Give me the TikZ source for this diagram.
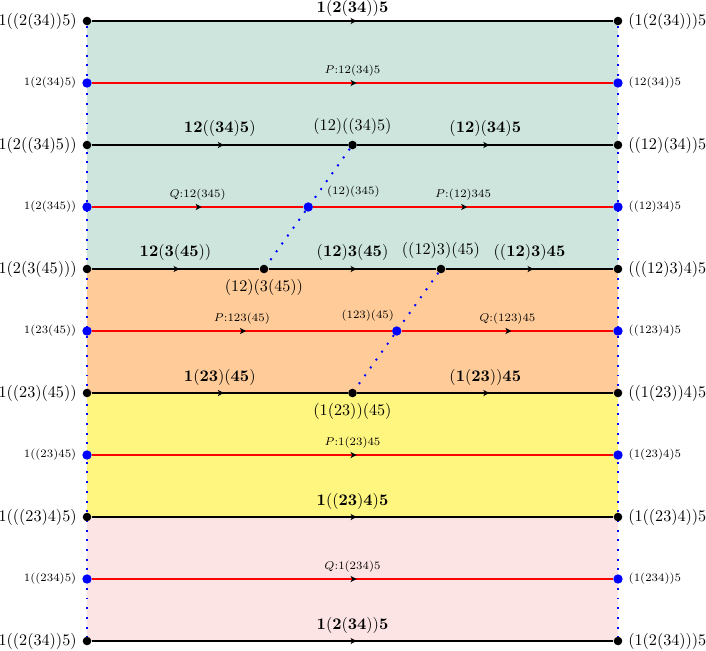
\documentclass[tikz,border=0pt]{standalone}
\usetikzlibrary{arrows.meta,decorations.markings}
\pgfdeclarelayer{background}
\pgfsetlayers{background,main}
\definecolor{bandteal}{RGB}{205,229,221}
\definecolor{bandorange}{RGB}{255,204,153}
\definecolor{bandyellow}{RGB}{255,246,128}
\definecolor{bandpink}{RGB}{253,228,228}
\tikzset{
  bdot/.style={circle, fill=black, inner sep=0pt, minimum size=5.3pt},
  pdot/.style={circle, fill=blue, inner sep=0pt, minimum size=5.8pt},
  midarr/.style={postaction={decorate, decoration={markings,
      mark=at position 0.5 with {\arrow[black,xshift=2.5pt]{Stealth[length=3.7pt,width=3.8pt,inset=1pt]}}}}},
  bline/.style={draw=black, line width=1.2pt, midarr},
  rline/.style={draw=red, line width=1.2pt, midarr},
  dotl/.style={draw=blue, line width=1.2pt, dash pattern=on 1.2pt off 4.8pt},
  slab/.style={font=\scriptsize},
  blab/.style={font=\normalsize, above=1pt},
  rlab/.style={font=\scriptsize, above},
}
\begin{document}
\begin{tikzpicture}[x=0.619pt,y=-0.619pt]
\useasboundingbox (0,0) rectangle (706,650);
% row 1
\node[bdot, label={left:$1((2(34))5)$}] (L1) at (87,21) {};
\node[bdot, label={right:$(1(2(34)))5$}] (R1) at (618,21) {};
% row 2
\node[pdot, label={[slab]left:$1(2(34)5)$}] (L2) at (87,83) {};
\node[pdot, label={[slab]right:$(12(34))5$}] (R2) at (618,83) {};
% row 3
\node[bdot, label={left:$1(2((34)5))$}] (L3) at (87,145) {};
\node[bdot, label={above:$(12)((34)5)$}] (M3) at (352.5,145) {};
\node[bdot, label={right:$((12)(34))5$}] (R3) at (618,145) {};
% row 4
\node[pdot, label={[slab]left:$1(2(345))$}] (L4) at (87,207) {};
\node[pdot, label={[slab,xshift=6pt]above right:$(12)(345)$}] (M4) at (308.25,207) {};
\node[pdot, label={[slab]right:$((12)34)5$}] (R4) at (618,207) {};
% row 5
\node[bdot, label={left:$1(2(3(45)))$}] (L5) at (87,269) {};
\node[bdot, label={below:$(12)(3(45))$}] (M5a) at (264,269) {};
\node[bdot, label={above:$((12)3)(45)$}] (M5b) at (441,269) {};
\node[bdot, label={right:$(((12)3)4)5$}] (R5) at (618,269) {};
% row 6
\node[pdot, label={[slab]left:$1(23(45))$}] (L6) at (87,331) {};
\node[pdot, label={[slab,xshift=4pt]above left:$(123)(45)$}] (M6) at (396.75,331) {};
\node[pdot, label={[slab]right:$((123)4)5$}] (R6) at (618,331) {};
% row 7
\node[bdot, label={left:$1((23)(45))$}] (L7) at (87,393) {};
\node[bdot, label={below:$(1(23))(45)$}] (M7) at (352.5,393) {};
\node[bdot, label={right:$((1(23))4)5$}] (R7) at (618,393) {};
% row 8
\node[pdot, label={[slab]left:$1((23)45)$}] (L8) at (87,455) {};
\node[pdot, label={[slab]right:$(1(23)4)5$}] (R8) at (618,455) {};
% row 9
\node[bdot, label={left:$1(((23)4)5)$}] (L9) at (87,517) {};
\node[bdot, label={right:$(1((23)4))5$}] (R9) at (618,517) {};
% row 10
\node[pdot, label={[slab]left:$1((234)5)$}] (L10) at (87,579) {};
\node[pdot, label={[slab]right:$(1(234))5$}] (R10) at (618,579) {};
% row 11
\node[bdot, label={left:$1((2(34))5)$}] (L11) at (87,641) {};
\node[bdot, label={right:$(1(2(34)))5$}] (R11) at (618,641) {};

\begin{pgfonlayer}{background}
\fill[bandteal] (L1.center) rectangle (R5.center);
\fill[bandorange] (L5.center) rectangle (R7.center);
\fill[bandyellow] (L7.center) rectangle (R9.center);
\fill[bandpink] (L9.center) rectangle (R11.center);
\draw[dotl] (L1) -- (L11);
\draw[dotl] (R1) -- (R11);
\draw[dotl] (M3) -- (M4) -- (M5a);
\draw[dotl] (M5b) -- (M6) -- (M7);
\draw[bline] (L1) -- node[blab, above=-2.2pt] (t1) {$\mathbf{1(2(34))5}$} (R1);
\draw[rline] (L2) -- node[rlab] (t2) {$P{:}12(34)5$} (R2);
\draw[bline] (L3) -- node[blab] (t3) {$\mathbf{12((34)5)}$} (M3);
\draw[bline] (M3) -- node[blab] (t4) {$\mathbf{(12)(34)5}$} (R3);
\draw[rline] (L4) -- node[rlab] (t5) {$Q{:}12(345)$} (M4);
\draw[rline] (M4) -- node[rlab] (t6) {$P{:}(12)345$} (R4);
\draw[bline] (L5) -- node[blab] (t7) {$\mathbf{12(3(45))}$} (M5a);
\draw[bline] (M5a) -- node[blab] (t8) {$\mathbf{(12)3(45)}$} (M5b);
\draw[bline] (M5b) -- node[blab] (t9) {$\mathbf{((12)3)45}$} (R5);
\draw[rline] (L6) -- node[rlab] (t10) {$P{:}123(45)$} (M6);
\draw[rline] (M6) -- node[rlab] (t11) {$Q{:}(123)45$} (R6);
\draw[bline] (L7) -- node[blab] (t12) {$\mathbf{1(23)(45)}$} (M7);
\draw[bline] (M7) -- node[blab] (t13) {$\mathbf{(1(23))45}$} (R7);
\draw[rline] (L8) -- node[rlab] (t14) {$P{:}1(23)45$} (R8);
\draw[bline] (L9) -- node[blab] (t15) {$\mathbf{1((23)4)5}$} (R9);
\draw[rline] (L10) -- node[rlab] (t16) {$Q{:}1(234)5$} (R10);
\draw[bline] (L11) -- node[blab] (t17) {$\mathbf{1(2(34))5}$} (R11);
\end{pgfonlayer}
\end{tikzpicture}
\end{document}
